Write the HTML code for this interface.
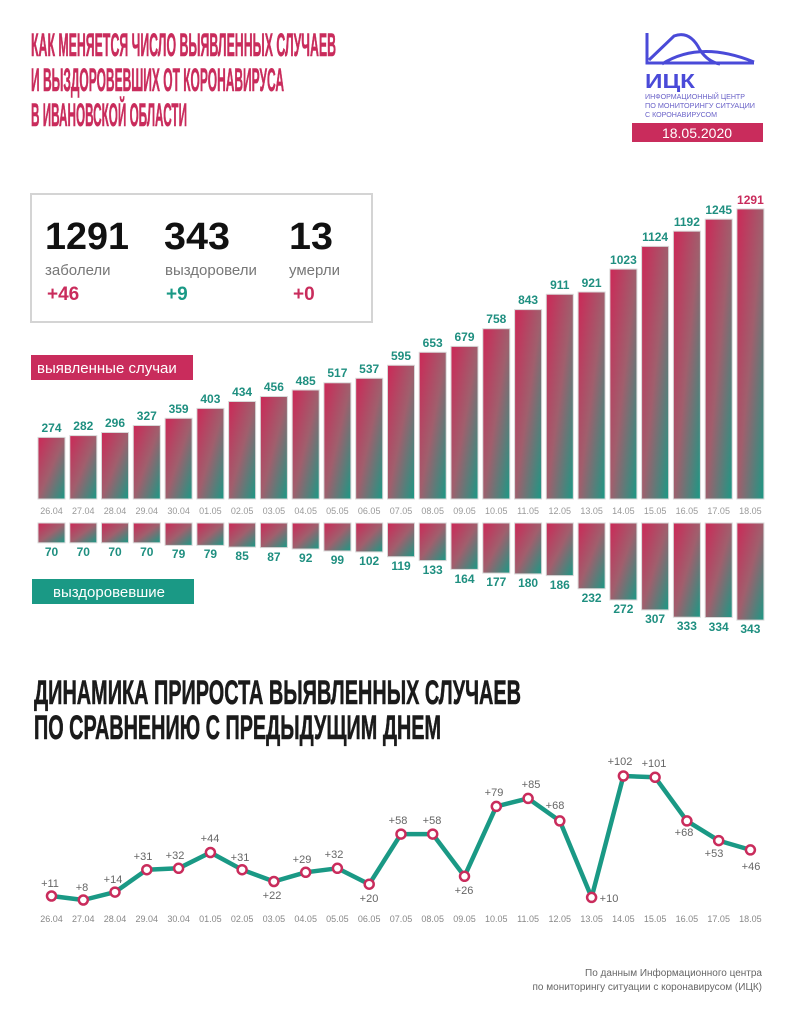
<!DOCTYPE html>
<html><head><meta charset="utf-8"><style>
html,body{margin:0;padding:0;background:#fff}
svg{display:block}
text{font-family:"Liberation Sans",sans-serif}
</style></head><body>
<svg width="794" height="1024" viewBox="0 0 794 1024" xmlns="http://www.w3.org/2000/svg">
<defs>
<linearGradient id="g" x1="0" y1="0" x2="1" y2="1">
<stop offset="0" stop-color="#cc2857"/><stop offset="0.5" stop-color="#a05f6d"/><stop offset="1" stop-color="#1a9985"/>
</linearGradient>
</defs>
<!-- title -->
<g fill="#c92c5c" font-weight="bold" font-size="32" stroke="#c92c5c" stroke-width="0.6">
<text x="31" y="56" textLength="305" lengthAdjust="spacingAndGlyphs">КАК МЕНЯЕТСЯ ЧИСЛО ВЫЯВЛЕННЫХ СЛУЧАЕВ</text>
<text x="31" y="91" textLength="253" lengthAdjust="spacingAndGlyphs">И ВЫЗДОРОВЕВШИХ ОТ КОРОНАВИРУСА</text>
<text x="31" y="126" textLength="156" lengthAdjust="spacingAndGlyphs">В ИВАНОВСКОЙ ОБЛАСТИ</text>
</g>
<!-- logo -->
<g stroke="#4a4ad8" stroke-width="3" fill="none">
<path d="M647 33 V63 H754"/>
<path d="M649 60 L674 36 Q690 30 700 50 Q708 62 720 64"/>
<path d="M662 64 Q700 40 754 62"/>
</g>
<text x="645" y="88" font-size="20" font-weight="bold" fill="#4a4ad8" textLength="50" lengthAdjust="spacingAndGlyphs">ИЦК</text>
<g font-size="7" fill="#6a62c8">
<text x="645" y="99" textLength="100" lengthAdjust="spacingAndGlyphs">ИНФОРМАЦИОННЫЙ ЦЕНТР</text>
<text x="645" y="108" textLength="110" lengthAdjust="spacingAndGlyphs">ПО МОНИТОРИНГУ СИТУАЦИИ</text>
<text x="645" y="117" textLength="72" lengthAdjust="spacingAndGlyphs">С КОРОНАВИРУСОМ</text>
</g>
<rect x="632" y="123" width="131" height="19" fill="#c92c5c"/>
<text x="697" y="138" font-size="14" fill="#fff" text-anchor="middle">18.05.2020</text>
<!-- stats box -->
<rect x="31" y="194" width="341" height="128" fill="#fff" stroke="#d4d4d4" stroke-width="2"/>
<g font-size="38" font-weight="bold" fill="#111">
<text x="45" y="249" textLength="84" lengthAdjust="spacingAndGlyphs">1291</text><text x="164" y="249" textLength="66" lengthAdjust="spacingAndGlyphs">343</text><text x="289" y="249" textLength="44" lengthAdjust="spacingAndGlyphs">13</text>
</g>
<g font-size="15" fill="#777">
<text x="45" y="275">заболели</text><text x="165" y="275">выздоровели</text><text x="289" y="275">умерли</text>
</g>
<g font-size="19" font-weight="bold">
<text x="47" y="300" fill="#c92c5c">+46</text><text x="166" y="300" fill="#1a9985">+9</text><text x="293" y="300" fill="#c92c5c">+0</text>
</g>
<rect x="31" y="355" width="162" height="25" fill="#c92c5c"/>
<text x="37" y="373" font-size="15" fill="#fff">выявленные случаи</text>
<rect x="32" y="579" width="162" height="25" fill="#1a9985"/>
<text x="53" y="597" font-size="15" fill="#fff">выздоровевшие</text>
<!-- top bars -->
<g fill="url(#g)" stroke="#d8d8d8" stroke-width="1">
<rect x="38.0" y="437.4" width="27" height="61.6"/>
<rect x="69.8" y="435.6" width="27" height="63.4"/>
<rect x="101.5" y="432.5" width="27" height="66.5"/>
<rect x="133.3" y="425.5" width="27" height="73.5"/>
<rect x="165.1" y="418.3" width="27" height="80.7"/>
<rect x="196.9" y="408.4" width="27" height="90.6"/>
<rect x="228.6" y="401.5" width="27" height="97.5"/>
<rect x="260.4" y="396.5" width="27" height="102.5"/>
<rect x="292.2" y="390.0" width="27" height="109.0"/>
<rect x="323.9" y="382.8" width="27" height="116.2"/>
<rect x="355.7" y="378.3" width="27" height="120.7"/>
<rect x="387.5" y="365.3" width="27" height="133.7"/>
<rect x="419.2" y="352.3" width="27" height="146.7"/>
<rect x="451.0" y="346.4" width="27" height="152.6"/>
<rect x="482.8" y="328.7" width="27" height="170.3"/>
<rect x="514.6" y="309.6" width="27" height="189.4"/>
<rect x="546.3" y="294.3" width="27" height="204.7"/>
<rect x="578.1" y="292.0" width="27" height="207.0"/>
<rect x="609.9" y="269.1" width="27" height="229.9"/>
<rect x="641.6" y="246.4" width="27" height="252.6"/>
<rect x="673.4" y="231.2" width="27" height="267.8"/>
<rect x="705.2" y="219.2" width="27" height="279.8"/>
<rect x="736.9" y="208.9" width="27" height="290.1"/>
</g>
<g font-size="12" font-weight="bold" fill="#1f8f80" text-anchor="middle">
<text x="51.5" y="432">274</text><text x="83.3" y="430">282</text><text x="115.0" y="427">296</text><text x="146.8" y="420">327</text><text x="178.6" y="413">359</text><text x="210.4" y="403">403</text><text x="242.1" y="396">434</text><text x="273.9" y="391">456</text><text x="305.7" y="385">485</text><text x="337.4" y="377">517</text><text x="369.2" y="373">537</text><text x="401.0" y="360">595</text><text x="432.7" y="347">653</text><text x="464.5" y="341">679</text><text x="496.3" y="323">758</text><text x="528.1" y="304">843</text><text x="559.8" y="289">911</text><text x="591.6" y="287">921</text><text x="623.4" y="264">1023</text><text x="655.1" y="241">1124</text><text x="686.9" y="226">1192</text><text x="718.7" y="214">1245</text><text x="750.4" y="204" fill="#c92c5c">1291</text>
</g>
<g font-size="9" fill="#999" text-anchor="middle">
<text x="51.5" y="514">26.04</text><text x="83.3" y="514">27.04</text><text x="115.0" y="514">28.04</text><text x="146.8" y="514">29.04</text><text x="178.6" y="514">30.04</text><text x="210.4" y="514">01.05</text><text x="242.1" y="514">02.05</text><text x="273.9" y="514">03.05</text><text x="305.7" y="514">04.05</text><text x="337.4" y="514">05.05</text><text x="369.2" y="514">06.05</text><text x="401.0" y="514">07.05</text><text x="432.7" y="514">08.05</text><text x="464.5" y="514">09.05</text><text x="496.3" y="514">10.05</text><text x="528.1" y="514">11.05</text><text x="559.8" y="514">12.05</text><text x="591.6" y="514">13.05</text><text x="623.4" y="514">14.05</text><text x="655.1" y="514">15.05</text><text x="686.9" y="514">16.05</text><text x="718.7" y="514">17.05</text><text x="750.4" y="514">18.05</text>
</g>
<!-- recovered bars -->
<g fill="url(#g)" stroke="#d8d8d8" stroke-width="1">
<rect x="38.0" y="523" width="27" height="19.8"/>
<rect x="69.8" y="523" width="27" height="19.8"/>
<rect x="101.5" y="523" width="27" height="19.8"/>
<rect x="133.3" y="523" width="27" height="19.8"/>
<rect x="165.1" y="523" width="27" height="22.4"/>
<rect x="196.9" y="523" width="27" height="22.4"/>
<rect x="228.6" y="523" width="27" height="24.1"/>
<rect x="260.4" y="523" width="27" height="24.6"/>
<rect x="292.2" y="523" width="27" height="26.0"/>
<rect x="323.9" y="523" width="27" height="28.0"/>
<rect x="355.7" y="523" width="27" height="28.9"/>
<rect x="387.5" y="523" width="27" height="33.7"/>
<rect x="419.2" y="523" width="27" height="37.6"/>
<rect x="451.0" y="523" width="27" height="46.4"/>
<rect x="482.8" y="523" width="27" height="50.1"/>
<rect x="514.6" y="523" width="27" height="50.9"/>
<rect x="546.3" y="523" width="27" height="52.6"/>
<rect x="578.1" y="523" width="27" height="65.7"/>
<rect x="609.9" y="523" width="27" height="77.0"/>
<rect x="641.6" y="523" width="27" height="86.9"/>
<rect x="673.4" y="523" width="27" height="94.2"/>
<rect x="705.2" y="523" width="27" height="94.5"/>
<rect x="736.9" y="523" width="27" height="97.1"/>
</g>
<g font-size="12" font-weight="bold" fill="#1f8f80" text-anchor="middle">
<text x="51.5" y="556">70</text><text x="83.3" y="556">70</text><text x="115.0" y="556">70</text><text x="146.8" y="556">70</text><text x="178.6" y="558">79</text><text x="210.4" y="558">79</text><text x="242.1" y="560">85</text><text x="273.9" y="561">87</text><text x="305.7" y="562">92</text><text x="337.4" y="564">99</text><text x="369.2" y="565">102</text><text x="401.0" y="570">119</text><text x="432.7" y="574">133</text><text x="464.5" y="583">164</text><text x="496.3" y="586">177</text><text x="528.1" y="587">180</text><text x="559.8" y="589">186</text><text x="591.6" y="602">232</text><text x="623.4" y="613">272</text><text x="655.1" y="623">307</text><text x="686.9" y="630">333</text><text x="718.7" y="631">334</text><text x="750.4" y="633">343</text>
</g>
<!-- subtitle -->
<g fill="#1a1a1a" font-weight="bold" font-size="34" stroke="#1a1a1a" stroke-width="0.6">
<text x="34" y="704" textLength="487" lengthAdjust="spacingAndGlyphs">ДИНАМИКА ПРИРОСТА ВЫЯВЛЕННЫХ СЛУЧАЕВ</text>
<text x="34" y="739" textLength="407" lengthAdjust="spacingAndGlyphs">ПО СРАВНЕНИЮ С ПРЕДЫДУЩИМ ДНЕМ</text>
</g>
<!-- line -->
<polyline fill="none" stroke="#1a9985" stroke-width="4.5" stroke-linejoin="round" points="51.5,896 83.3,900 115,892.1 146.8,869.7 178.6,868.3 210.4,852.5 242.1,869.7 273.9,881.5 305.7,872.3 337.4,868.3 369.2,884.2 401,834.1 432.7,834.1 464.5,876.3 496.3,806.4 528.1,798.4 559.8,820.9 591.6,897.4 623.4,776 655.1,777.3 686.9,820.9 718.7,840.6 750.4,849.9"/>
<g fill="#fff" stroke="#c92c5c" stroke-width="2.5">
<circle cx="51.5" cy="896" r="4.5"/><circle cx="83.3" cy="900" r="4.5"/><circle cx="115" cy="892.1" r="4.5"/><circle cx="146.8" cy="869.7" r="4.5"/><circle cx="178.6" cy="868.3" r="4.5"/><circle cx="210.4" cy="852.5" r="4.5"/><circle cx="242.1" cy="869.7" r="4.5"/><circle cx="273.9" cy="881.5" r="4.5"/><circle cx="305.7" cy="872.3" r="4.5"/><circle cx="337.4" cy="868.3" r="4.5"/><circle cx="369.2" cy="884.2" r="4.5"/><circle cx="401" cy="834.1" r="4.5"/><circle cx="432.7" cy="834.1" r="4.5"/><circle cx="464.5" cy="876.3" r="4.5"/><circle cx="496.3" cy="806.4" r="4.5"/><circle cx="528.1" cy="798.4" r="4.5"/><circle cx="559.8" cy="820.9" r="4.5"/><circle cx="591.6" cy="897.4" r="4.5"/><circle cx="623.4" cy="776" r="4.5"/><circle cx="655.1" cy="777.3" r="4.5"/><circle cx="686.9" cy="820.9" r="4.5"/><circle cx="718.7" cy="840.6" r="4.5"/><circle cx="750.4" cy="849.9" r="4.5"/>
</g>
<g font-size="11" fill="#666" text-anchor="middle">
<text x="50" y="887">+11</text><text x="82" y="891">+8</text><text x="113" y="883">+14</text><text x="143" y="860">+31</text><text x="175" y="859">+32</text><text x="210" y="842">+44</text><text x="240" y="861">+31</text><text x="272" y="899">+22</text><text x="302" y="863">+29</text><text x="334" y="858">+32</text><text x="369" y="902">+20</text><text x="398" y="824">+58</text><text x="432" y="824">+58</text><text x="464" y="894">+26</text><text x="494" y="796">+79</text><text x="531" y="788">+85</text><text x="555" y="809">+68</text><text x="609" y="902">+10</text><text x="620" y="765">+102</text><text x="654" y="767">+101</text><text x="684" y="836">+68</text><text x="714" y="857">+53</text><text x="751" y="870">+46</text>
</g>
<g font-size="9" fill="#888" text-anchor="middle">
<text x="51.5" y="922">26.04</text><text x="83.3" y="922">27.04</text><text x="115.0" y="922">28.04</text><text x="146.8" y="922">29.04</text><text x="178.6" y="922">30.04</text><text x="210.4" y="922">01.05</text><text x="242.1" y="922">02.05</text><text x="273.9" y="922">03.05</text><text x="305.7" y="922">04.05</text><text x="337.4" y="922">05.05</text><text x="369.2" y="922">06.05</text><text x="401.0" y="922">07.05</text><text x="432.7" y="922">08.05</text><text x="464.5" y="922">09.05</text><text x="496.3" y="922">10.05</text><text x="528.1" y="922">11.05</text><text x="559.8" y="922">12.05</text><text x="591.6" y="922">13.05</text><text x="623.4" y="922">14.05</text><text x="655.1" y="922">15.05</text><text x="686.9" y="922">16.05</text><text x="718.7" y="922">17.05</text><text x="750.4" y="922">18.05</text>
</g>
<g font-size="10" fill="#666" text-anchor="end">
<text x="762" y="976">По данным Информационного центра</text>
<text x="762" y="990">по мониторингу ситуации с коронавирусом (ИЦК)</text>
</g>
</svg>
</body></html>
